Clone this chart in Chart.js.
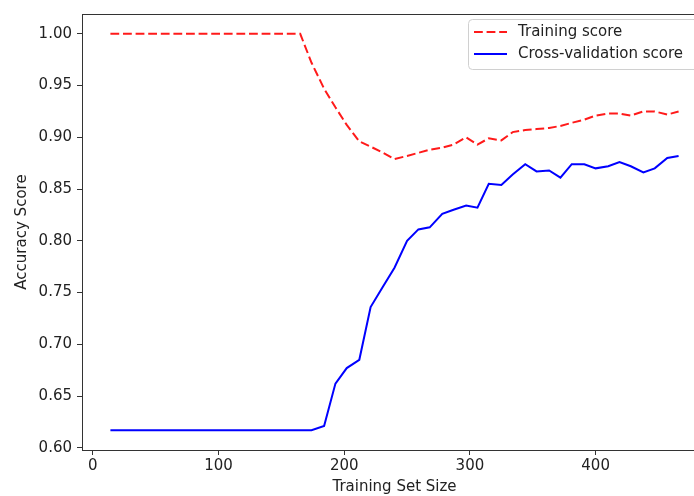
<!DOCTYPE html>
<html>
<head>
<meta charset="utf-8">
<script src="https://cdn.jsdelivr.net/npm/chart.js@4"></script>
<style>
  html, body { margin: 0; padding: 0; background: #fff; overflow: hidden; }
  #wrap { width: 694px; height: 496px; overflow: hidden; position: relative; }
  canvas { display: block; }
</style>
</head>
<body>
<div id="wrap"><canvas id="myChart" width="710" height="496"></canvas></div>
<script>
// data
var trainSizes = [14,23,33,42,52,61,71,80,89,99,108,118,127,136,146,155,165,174,184,193,
                  202,212,221,231,240,250,259,268,278,287,297,306,315,325,334,344,353,363,372,381,
                  391,400,410,419,428,438,447,457,466];
var trainScores = [1,1,1,1,1,1,1,1,1,1,1,1,1,1,1,1,1,
                   0.972,0.947,0.929,0.912,0.896,0.891,0.885,0.879,0.882,0.885,0.888,0.890,0.893,0.900,
                   0.893,0.899,0.897,0.905,0.907,0.908,0.909,0.911,0.914,0.917,0.921,0.923,0.923,0.921,
                   0.925,0.925,0.922,0.925];
var cvScores = [0.617,0.617,0.617,0.617,0.617,0.617,0.617,0.617,0.617,0.617,0.617,0.617,0.617,0.617,0.617,0.617,0.617,0.617,
                0.621,0.662,0.677,0.685,0.736,0.756,0.774,0.800,0.811,0.813,0.826,0.830,0.834,0.832,
                0.855,0.854,0.864,0.874,0.867,0.868,0.861,0.874,0.874,0.870,0.872,0.876,0.872,0.866,
                0.870,0.880,0.882];
var xTicks = [0, 100, 200, 300, 400];
var yTicks = [0.60, 0.65, 0.70, 0.75, 0.80, 0.85, 0.90, 0.95, 1.00];
var seriesNames = ['Training score', 'Cross-validation score'];
var xTitle = 'Training Set Size';
var yTitle = 'Accuracy Score';

var FONT = 'DejaVu Sans';
var TEXT = '#222';

function pts(ys) {
    var out = [];
    for (var i = 0; i < trainSizes.length; i++) {
        out.push({x: trainSizes[i], y: ys[i]});
    }
    return out;
}

function fixedTicks(vals) {
    return function(scale) {
        scale.ticks = vals.map(function(v) { return {value: v}; });
    };
}

// matplotlib style 5% margins
var xmin = Math.min.apply(null, trainSizes), xmax = Math.max.apply(null, trainSizes);
var allY = trainScores.concat(cvScores);
var ymin = Math.min.apply(null, allY), ymax = Math.max.apply(null, allY);
var xm = (xmax - xmin) * 0.05, ym = (ymax - ymin) * 0.05;

// spines + legend box drawn on top like matplotlib
var frameAndLegend = {
    id: 'frameAndLegend',
    afterDatasetsDraw: function(chart) {
        var c = chart.ctx, a = chart.chartArea;
        c.save();
        c.strokeStyle = '#333';
        c.lineWidth = 1;
        c.strokeRect(a.left + 0.5, a.top + 0.5, a.right - a.left - 1, a.bottom - a.top);

        // legend (runs off the right edge, as in the original)
        var bx = 468, by = 19, bw = 300, bh = 50;
        c.beginPath();
        c.roundRect(bx + 0.5, by + 0.5, bw, bh, 4);
        c.fillStyle = 'rgba(255,255,255,0.8)';
        c.fill();
        c.strokeStyle = '#d0d0d0';
        c.stroke();

        c.font = '15px "' + FONT + '"';
        c.textBaseline = 'middle';
        c.fillStyle = TEXT;
        chart.data.datasets.forEach(function(ds, i) {
            var ly = 32 + i * 22;
            c.beginPath();
            c.setLineDash(ds.borderDash || []);
            c.strokeStyle = ds.borderColor;
            c.lineWidth = ds.borderWidth;
            c.moveTo(474, ly);
            c.lineTo(507, ly);
            c.stroke();
            c.setLineDash([]);
            c.fillText(ds.label, 518, ly);
        });
        c.restore();
    }
};

var ctx = document.getElementById('myChart');
var myChart = new Chart(ctx, {
    type: 'line',
    data: {
        datasets: [
            {
                label: seriesNames[0],
                data: pts(trainScores),
                borderColor: '#ff1a1a',
                borderWidth: 2,
                borderDash: [8.8, 3.8],
                pointRadius: 0,
                tension: 0,
                fill: false
            },
            {
                label: seriesNames[1],
                data: pts(cvScores),
                borderColor: '#0000ff',
                borderWidth: 2,
                pointRadius: 0,
                tension: 0,
                fill: false
            }
        ]
    },
    options: {
        responsive: false,
        animation: false,
        devicePixelRatio: 1,
        layout: { padding: { left: 0, top: 12, right: 3, bottom: 0 } },
        plugins: {
            legend: { display: false },
            tooltip: { enabled: false }
        },
        scales: {
            x: {
                type: 'linear',
                min: xmin - xm,
                max: xmax + xm,
                afterBuildTicks: fixedTicks(xTicks),
                border: { display: false },
                grid: { drawOnChartArea: false, drawTicks: true, tickLength: 5, color: '#333' },
                ticks: {
                    padding: 2,
                    color: TEXT,
                    font: { family: FONT, size: 15 },
                    maxRotation: 0,
                    autoSkip: false,
                    callback: function(v) { return String(v); }
                },
                title: {
                    display: true,
                    text: xTitle,
                    color: TEXT,
                    font: { family: FONT, size: 15 },
                    padding: { top: 0, bottom: 0 }
                },
                afterFit: function(s) { s.height = 46; }
            },
            y: {
                type: 'linear',
                min: ymin - ym,
                max: ymax + ym,
                afterBuildTicks: fixedTicks(yTicks),
                border: { display: false },
                grid: { drawOnChartArea: false, drawTicks: true, tickLength: 5, color: '#333' },
                ticks: {
                    padding: 5,
                    color: TEXT,
                    font: { family: FONT, size: 15 },
                    autoSkip: false,
                    callback: function(v) { return v.toFixed(2); }
                },
                title: {
                    display: true,
                    text: yTitle,
                    color: TEXT,
                    font: { family: FONT, size: 15 },
                    padding: { top: 13, bottom: 0 }
                },
                afterFit: function(s) { s.width = 82; }
            }
        }
    },
    plugins: [frameAndLegend]
});
</script>
</body>
</html>
